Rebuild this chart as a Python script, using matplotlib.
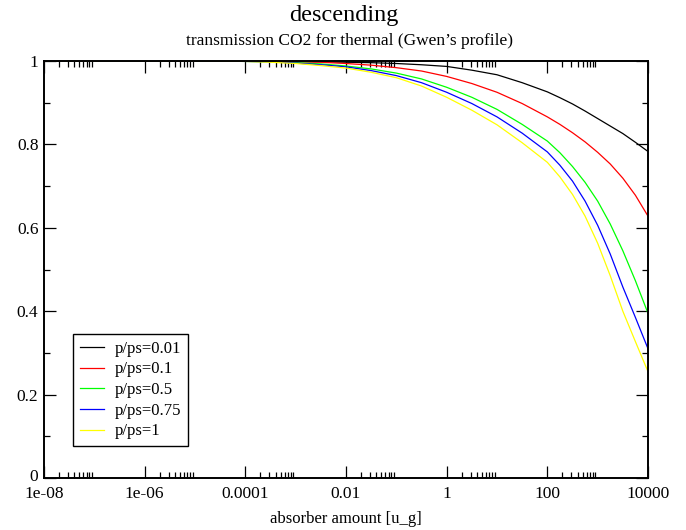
import numpy as np
import matplotlib
matplotlib.use("Agg")
import matplotlib.pyplot as plt
import matplotlib.transforms as mtransforms
from matplotlib.ticker import FixedLocator, NullFormatter

plt.rcParams["font.family"] = ["Liberation Serif", "DejaVu Serif"]

# absorber amount, read at decade / half-decade / quarter-decade positions
absorber = [1e-8, 1e-7, 1e-6, 1e-5,
            1e-4, 10**-3.5, 1e-3, 10**-2.5, 1e-2, 10**-1.5, 1e-1, 10**-0.5,
            1.0, 10**0.5, 10.0, 10**1.5, 100.0, 10**2.25, 10**2.5, 10**2.75,
            1000.0, 10**3.25, 10**3.5, 10**3.75, 10000.0]

t_001 = [1.0, 1.0, 1.0, 1.0,
         1.0, 1.0, 0.999, 0.998, 0.997, 0.996, 0.994, 0.991,
         0.987, 0.978, 0.967, 0.948, 0.926, 0.912, 0.897, 0.880,
         0.862, 0.844, 0.826, 0.805, 0.783]
t_01 = [1.0, 1.0, 1.0, 1.0,
        1.0, 0.999, 0.998, 0.997, 0.994, 0.990, 0.984, 0.976,
        0.963, 0.946, 0.925, 0.898, 0.866, 0.848, 0.828, 0.806,
        0.781, 0.753, 0.719, 0.678, 0.628]
t_05 = [1.0, 1.0, 1.0, 1.0,
        0.999, 0.998, 0.996, 0.993, 0.988, 0.981, 0.971, 0.957,
        0.937, 0.913, 0.884, 0.848, 0.808, 0.780, 0.747, 0.709,
        0.664, 0.609, 0.545, 0.473, 0.395]
t_075 = [1.0, 1.0, 1.0, 1.0,
         0.999, 0.998, 0.995, 0.991, 0.986, 0.977, 0.965, 0.948,
         0.925, 0.898, 0.866, 0.827, 0.782, 0.750, 0.712, 0.664,
         0.606, 0.537, 0.458, 0.385, 0.310]
t_1 = [1.0, 1.0, 1.0, 1.0,
       0.999, 0.997, 0.994, 0.989, 0.983, 0.973, 0.960, 0.940,
       0.913, 0.882, 0.847, 0.804, 0.757, 0.722, 0.680, 0.628,
       0.563, 0.485, 0.400, 0.327, 0.255]

labels = ["p/ps=0.01", "p/ps=0.1", "p/ps=0.5", "p/ps=0.75", "p/ps=1"]
colors = ["black", "red", "#00ff00", "blue", "yellow"]

xticks = [1e-8, 1e-6, 1e-4, 1e-2, 1, 100, 10000]
xticklabels = ["1e-08", "1e-06", "0.0001", "0.01", "1", "100", "10000"]
yticks = [0, 0.2, 0.4, 0.6, 0.8, 1]
yticklabels = ["0", "0.2", "0.4", "0.6", "0.8", "1"]

W, H = 686, 530
fig = plt.figure(figsize=(W / 100, H / 100), dpi=100)
ax = fig.add_axes([44 / W, 1 - 478 / H, (648 - 44) / W, (478 - 61) / H])

for ys, lab, c in zip([t_001, t_01, t_05, t_075, t_1], labels, colors):
    ax.plot(absorber, ys, color=c, lw=0.9, label=lab)

ax.set_xscale("log")
ax.set_xlim(1e-8, 1e4)
ax.set_ylim(0, 1)

ax.xaxis.set_major_locator(FixedLocator(xticks))
ax.set_xticklabels(xticklabels)
# minor ticks only in the first decade after each major tick (xmgrace style)
minors = [m * t for t in xticks[:-1] for m in range(2, 10)]
ax.xaxis.set_minor_locator(FixedLocator(minors))
ax.xaxis.set_minor_formatter(NullFormatter())

ax.set_yticks(yticks)
ax.set_yticklabels(yticklabels)
ax.yaxis.set_minor_locator(FixedLocator([0.1, 0.3, 0.5, 0.7, 0.9]))

ax.tick_params(which="both", direction="in", top=True, right=True,
               labelsize=12.5)
ax.tick_params(axis="x", pad=6)
ax.tick_params(axis="y", pad=4)
ax.tick_params(which="major", length=8.6, width=0.9)
ax.tick_params(which="minor", length=4.3, width=0.9)
for s in ax.spines.values():
    s.set_linewidth(1.4)

# nudge the "0" label up a little so it doesn't collide with "1e-08"
zero_lab = ax.get_yticklabels()[0]
zero_lab.set_transform(zero_lab.get_transform()
                       + mtransforms.ScaledTranslation(0, 3 / 100, fig.dpi_scale_trans))

ax.set_xlabel("absorber amount [u_g]", fontsize=12, labelpad=6)

fig.text(344 / W, 1 - 16 / H, "descending", ha="center", va="center", fontsize=17.5)
fig.text(349 / W, 1 - 41 / H, "transmission CO2 for thermal (Gwen\u2019s profile)",
         ha="center", va="center", fontsize=12.5)

leg = ax.legend(loc="upper left", bbox_to_anchor=(73 / W, 1 - 334 / H),
                bbox_transform=fig.transFigure, borderaxespad=0, fontsize=12,
                fancybox=False, framealpha=1, edgecolor="black",
                handlelength=1.45, handletextpad=0.65, labelspacing=0.28,
                borderpad=0.4)
leg.get_frame().set_linewidth(1.0)

fig.savefig("out.png", dpi=100)
